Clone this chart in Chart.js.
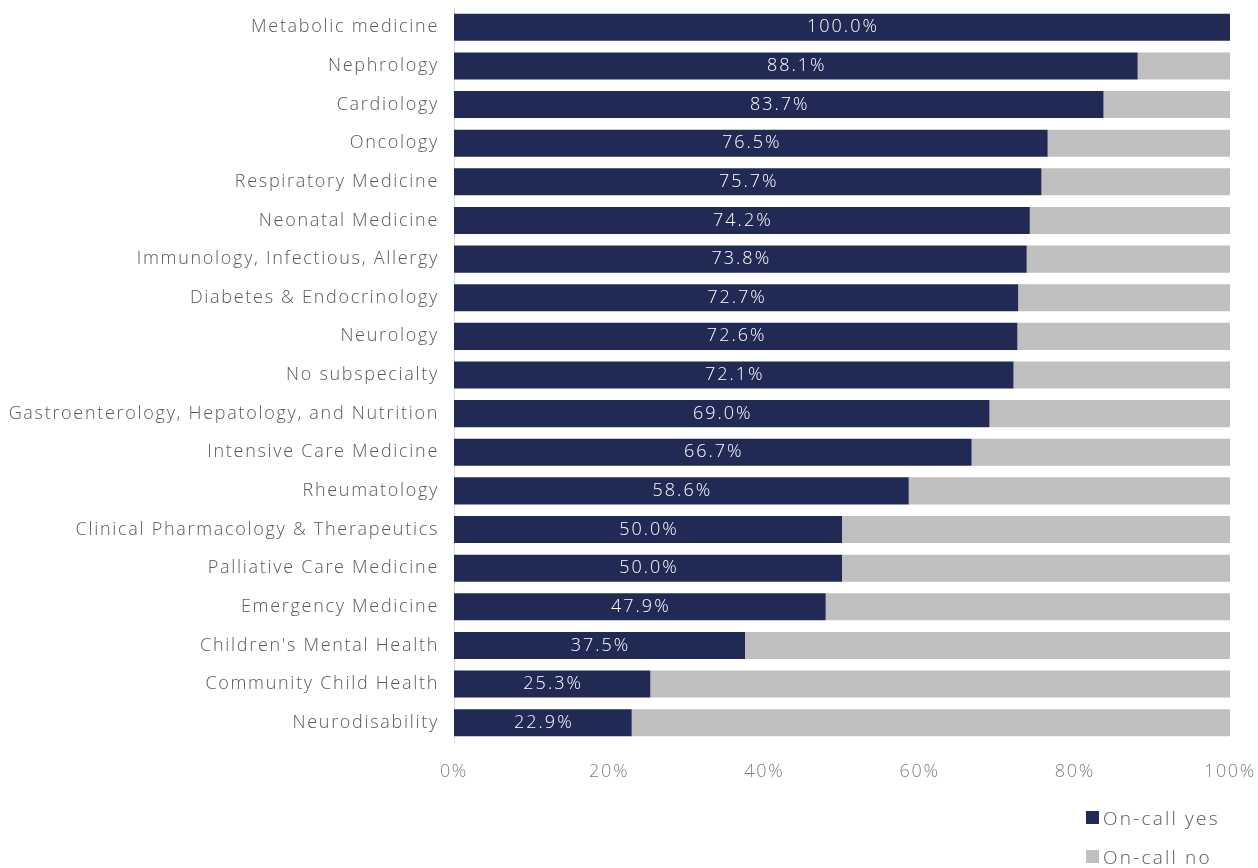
<!DOCTYPE html>
<html>
<head>
<meta charset="utf-8">
<script src="https://cdn.jsdelivr.net/npm/chart.js@4.4.1/dist/chart.umd.min.js"></script>
<style>
  html, body { margin: 0; padding: 0; background: #fff; }
  #wrap { position: relative; width: 1258px; height: 868px; }
  #chart { display: block; }
  #legend { position: absolute; left: 1086px; top: 798px; font-family: "Open Sans", sans-serif; font-weight: 300; font-size: 19px; color: #595959; letter-spacing: 2.2px; }
  #legend div { display: flex; align-items: center; height: 39px; }
  #legend span.box { display: inline-block; width: 13px; height: 13px; margin-right: 4px; }
</style>
</head>
<body>
<div id="wrap">
  <canvas id="chart" width="1258" height="868"></canvas>
  <div id="legend"></div>
</div>
<script>
// Specialties, sorted by share of on-call
const specialties = [
  'Metabolic medicine', 'Nephrology', 'Cardiology', 'Oncology', 'Respiratory Medicine',
  'Neonatal Medicine', 'Immunology, Infectious, Allergy', 'Diabetes & Endocrinology',
  'Neurology', 'No subspecialty', 'Gastroenterology, Hepatology, and Nutrition',
  'Intensive Care Medicine', 'Rheumatology', 'Clinical Pharmacology & Therapeutics',
  'Palliative Care Medicine', 'Emergency Medicine', "Children's Mental Health",
  'Community Child Health', 'Neurodisability'
];
const onCallYes = [100.0, 88.1, 83.7, 76.5, 75.7, 74.2, 73.8, 72.7, 72.6, 72.1, 69.0, 66.7, 58.6, 50.0, 50.0, 47.9, 37.5, 25.3, 22.9];
const onCallNo = [0.0, 11.9, 16.3, 23.5, 24.3, 25.8, 26.2, 27.3, 27.4, 27.9, 31.0, 33.3, 41.4, 50.0, 50.0, 52.1, 62.5, 74.7, 77.1];
const xTicks = [0, 20, 40, 60, 80, 100];

const navy = '#202a55';
const grey = '#bfbfbf';
const fontFamily = '"Open Sans", sans-serif';
const spacing = '1.7px';

// wide letter spacing for all canvas text (canvas resets state on resize)
const wideText = {
  id: 'wideText',
  beforeLayout(chart) { chart.ctx.letterSpacing = spacing; },
  beforeDraw(chart) { chart.ctx.letterSpacing = spacing; }
};

// white percentage labels in the middle of the dark segments
const barLabels = {
  id: 'barLabels',
  afterDatasetsDraw(chart) {
    const ctx = chart.ctx;
    const meta = chart.getDatasetMeta(0);
    ctx.save();
    ctx.fillStyle = '#ffffff';
    ctx.font = '300 18px ' + fontFamily;
    ctx.letterSpacing = '2px';
    ctx.textAlign = 'center';
    ctx.textBaseline = 'middle';
    meta.data.forEach((bar, i) => {
      const p = bar.getProps(['x', 'y', 'base'], true);
      ctx.fillText(onCallYes[i].toFixed(1) + '%', (p.x + p.base) / 2 + 1, p.y);
    });
    ctx.restore();
  }
};

const chart = new Chart(document.getElementById('chart'), {
  type: 'bar',
  data: {
    labels: specialties,
    datasets: [
      { label: 'On-call yes', data: onCallYes, backgroundColor: navy },
      { label: 'On-call no', data: onCallNo, backgroundColor: grey }
    ]
  },
  options: {
    indexAxis: 'y',
    responsive: false,
    animation: false,
    layout: { padding: { top: 8, right: 28, bottom: 0, left: 0 } },
    datasets: { bar: { categoryPercentage: 0.7, barPercentage: 1.0 } },
    plugins: {
      legend: { display: false },
      tooltip: { enabled: false }
    },
    scales: {
      x: {
        stacked: true,
        min: 0,
        max: 100,
        afterBuildTicks: (scale) => { scale.ticks = xTicks.map(v => ({ value: v })); },
        afterFit: (scale) => {
          scale.height = 126;
          scale.paddingLeft = 0;
          scale.paddingRight = 0;
        },
        grid: { display: false, drawTicks: false },
        border: { display: false },
        ticks: {
          padding: 19,
          color: '#7f7f7f',
          font: { family: fontFamily, size: 18, weight: 300 },
          callback: (v) => v + '%'
        }
      },
      y: {
        stacked: true,
        afterFit: (scale) => {
          scale.width = 454;
          scale.paddingTop = 0;
          scale.paddingBottom = 0;
        },
        grid: { display: false, drawTicks: false },
        border: { display: true, color: '#d9d9d9', width: 1 },
        ticks: {
          padding: 15,
          color: '#595959',
          font: { family: fontFamily, size: 18, weight: 300 }
        }
      }
    }
  },
  plugins: [wideText, barLabels]
});

// legend stacked at the bottom right
const legend = document.getElementById('legend');
chart.data.datasets.forEach(ds => {
  const row = document.createElement('div');
  row.innerHTML = '<span class="box" style="background:' + ds.backgroundColor + '"></span>' + ds.label;
  legend.appendChild(row);
});
</script>
</body>
</html>
